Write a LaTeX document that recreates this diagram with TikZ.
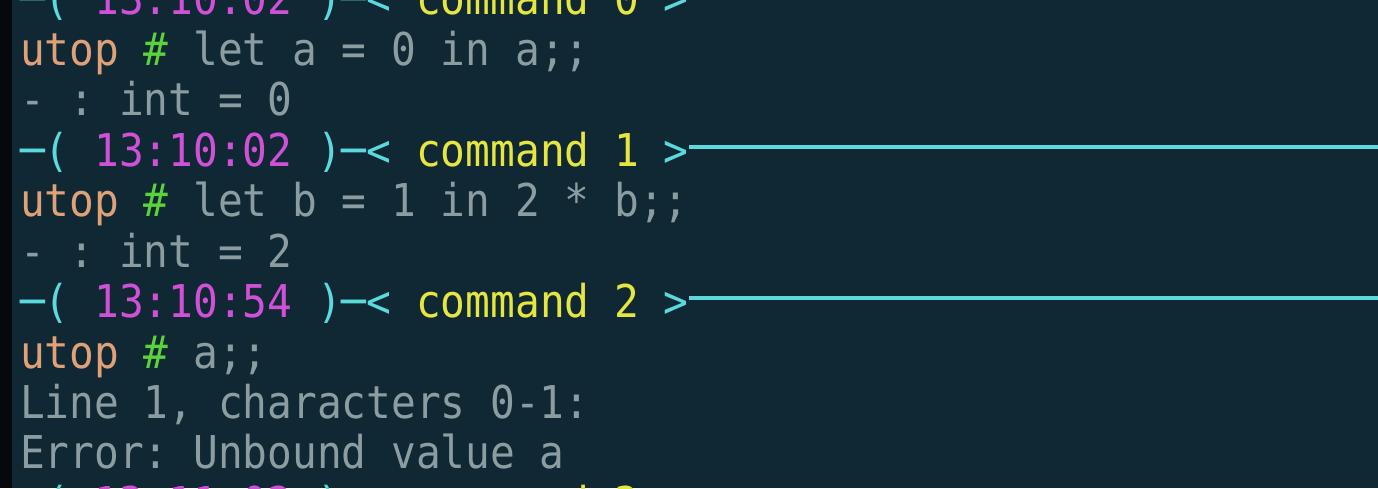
\documentclass[tikz,border=0pt]{standalone}
\usepackage{fontspec}
\setmonofont[FakeStretch=0.91]{DejaVu Sans Mono}
\definecolor{term}{HTML}{0F2833}
\definecolor{rim}{HTML}{05090B}
\definecolor{out}{HTML}{8C9DA2}
\definecolor{rl}{HTML}{5ADADE}
\definecolor{clk}{HTML}{D050D8}
\definecolor{cmd}{HTML}{E6E640}
\definecolor{usr}{HTML}{E0A078}
\definecolor{hsh}{HTML}{5CD23C}
\newcommand\cyn[1]{\textcolor{rl}{#1}}
\newcommand\pnk[1]{\textcolor{clk}{#1}}
\newcommand\yel[1]{\textcolor{cmd}{#1}}
\newcommand\prm{\textcolor{usr}{utop} \textcolor{hsh}{\#}}

\begin{document}
\begin{tikzpicture}[x=0.5pt,y=-0.5pt,
  txt/.style={anchor=base west,inner sep=0pt,outer sep=0pt,font=\ttfamily\fontsize{22.6}{27}\selectfont,text=out},
  bar/.style={draw=rl,line width=2.2pt}]
\useasboundingbox (0,0) rectangle (1378,488);
\clip (0,0) rectangle (1378,488);
\fill[term] (0,0) rectangle (1378,488);
\fill[rim] (0,0) rectangle (12,488);
\coordinate (edge) at (1378,0);
\node[txt] (cmd0) at (20,14) {\cyn{─(} \pnk{13:10:02} \cyn{)─<} \yel{command 0} \cyn{>}};
\node[txt] (in0) at (20,65) {\prm{} let a = 0 in a;;};
\node[txt] (out0) at (20,115) {- : int = 0};
\node[txt] (cmd1) at (20,166) {\cyn{─(} \pnk{13:10:02} \cyn{)─<} \yel{command 1} \cyn{>}};
\node[txt] (in1) at (20,216) {\prm{} let b = 1 in 2 * b;;};
\node[txt] (out1) at (20,267) {- : int = 2};
\node[txt] (cmd2) at (20,317) {\cyn{─(} \pnk{13:10:54} \cyn{)─<} \yel{command 2} \cyn{>}};
\node[txt] (in2) at (20,368) {\prm{} a;;};
\node[txt] (err0) at (20,418) {Line 1, characters 0-1:};
\node[txt] (err1) at (20,468) {Error: Unbound value a};
\node[txt] (cmd3) at (20,519) {\cyn{─(} \pnk{13:11:02} \cyn{)─<} \yel{command 3} \cyn{>}};
\coordinate (k0) at ([yshift=9.5pt]cmd0.base east);
\coordinate (k1) at ([yshift=9.5pt]cmd1.base east);
\coordinate (k2) at ([yshift=9.5pt]cmd2.base east);
\coordinate (k3) at ([yshift=9.5pt]cmd3.base east);
\draw[bar] (k0) -- (k0 -| edge);
\draw[bar] (k1) -- (k1 -| edge);
\draw[bar] (k2) -- (k2 -| edge);
\draw[bar] (k3) -- (k3 -| edge);
\end{tikzpicture}
\end{document}
